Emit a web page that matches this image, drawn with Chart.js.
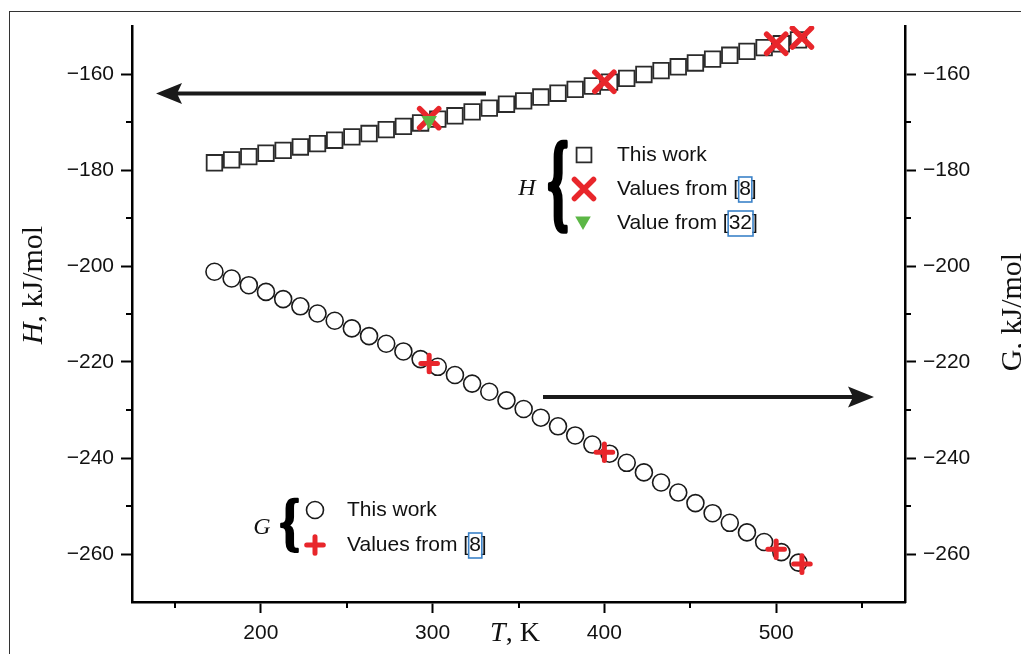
<!DOCTYPE html>
<html>
<head>
<meta charset="utf-8">
<script src="https://cdn.jsdelivr.net/npm/chart.js@4.4.1/dist/chart.umd.min.js"></script>
<style>
  html, body { margin: 0; padding: 0; background: #fff; overflow: hidden; }
  #wrap { position: relative; width: 1021px; height: 654px; }
  #frame { position: absolute; left: 9px; top: 11px; width: 1100px; height: 700px;
           border-left: 1.5px solid #333; border-top: 1.5px solid #333; }
  #chart { position: absolute; left: 0; top: 0; }
</style>
</head>
<body>
<div id="wrap">
  <div id="frame"></div>
  <canvas id="chart" width="1021" height="654"></canvas>
</div>
<script>
// --- data ---
const temps = [173, 183, 193, 203, 213, 223, 233, 243, 253, 263, 273, 283, 293, 303, 313, 323, 333, 343,
               353, 363, 373, 383, 393, 403, 413, 423, 433, 443, 453, 463, 473, 483, 493, 503, 513];
const enthalpyThisWork = [-178.5, -177.9, -177.2, -176.5, -175.9, -175.2, -174.5, -173.8, -173.1, -172.4,
                          -171.6, -170.9, -170.2, -169.4, -168.7, -167.9, -167.1, -166.3, -165.6, -164.8,
                          -164.0, -163.2, -162.5, -161.7, -160.9, -160.1, -159.3, -158.5, -157.7, -156.9,
                          -156.1, -155.3, -154.5, -153.7, -152.9];
const gibbsThisWork = [-201.2, -202.6, -204.0, -205.4, -206.9, -208.4, -209.9, -211.4, -213.0, -214.6,
                       -216.2, -217.8, -219.4, -221.0, -222.7, -224.5, -226.2, -228.0, -229.8, -231.6,
                       -233.4, -235.3, -237.2, -239.1, -241.0, -243.0, -245.1, -247.2, -249.4, -251.5,
                       -253.5, -255.5, -257.5, -259.6, -261.8];
const refTemps8 = [298, 400, 500, 515];
const enthalpyRef8 = [-169.2, -161.6, -153.7, -152.4];
const gibbsRef8 = [-220.3, -238.8, -259.0, -262.1];
const refTemps32 = [298];
const enthalpyRef32 = [-169.7];

const xTickValues = [150, 200, 250, 300, 350, 400, 450, 500, 550];
const xLabelValues = [200, 300, 400, 500];
const yTickValues = [-260, -250, -240, -230, -220, -210, -200, -190, -180, -170, -160];
const yLabelValues = [-260, -240, -220, -200, -180, -160];

// --- styles ---
const RED = '#e8262b';
const GREEN = '#5cb746';
const INK = '#1a1a1a';
const SANS = '"Liberation Sans", Arial, sans-serif';
const SERIF = '"Liberation Serif", "Times New Roman", serif';

const toPoints = (xs, ys) => xs.map((x, i) => ({ x: x, y: ys[i] }));
const minus = v => (v < 0 ? '\u2212' + Math.abs(v) : String(v));

function axisY(position, width) {
    return {
        type: 'linear', position: position, min: -270, max: -150,
        afterBuildTicks: a => { a.ticks = yTickValues.map(v => ({ value: v })); },
        afterFit: s => { s.width = width; },
        ticks: {
            callback: v => (yLabelValues.includes(v) ? minus(v) : ''),
            font: { family: SANS, size: 21 }, color: '#111', padding: 7, autoSkip: false
        },
        grid: {
            drawOnChartArea: false, tickLength: 11, tickWidth: 2,
            tickColor: c => (c.tick && yLabelValues.includes(c.tick.value)) ? '#000' : 'rgba(0,0,0,0)'
        },
        border: { color: '#000', width: 2.5 }
    };
}

function line(ctx, x1, y1, x2, y2) {
    ctx.beginPath(); ctx.moveTo(x1, y1); ctx.lineTo(x2, y2); ctx.stroke();
}

function arrow(ctx, xTail, xTip, y) {
    const dir = xTip > xTail ? 1 : -1;
    ctx.strokeStyle = INK; ctx.fillStyle = INK; ctx.lineWidth = 4;
    line(ctx, xTail, y, xTip - dir * 20, y);
    ctx.beginPath();
    ctx.moveTo(xTip, y);
    ctx.lineTo(xTip - dir * 26, y - 10.5);
    ctx.lineTo(xTip - dir * 21, y);
    ctx.lineTo(xTip - dir * 26, y + 10.5);
    ctx.closePath(); ctx.fill();
}

function brace(ctx, left, top, w, h) {
    ctx.save();
    ctx.font = 'bold 100px ' + SERIF;
    ctx.textAlign = 'left'; ctx.textBaseline = 'alphabetic';
    const m = ctx.measureText('{');
    const gw = m.actualBoundingBoxLeft + m.actualBoundingBoxRight;
    const gh = m.actualBoundingBoxAscent + m.actualBoundingBoxDescent;
    const sx = w / gw, sy = h / gh;
    ctx.translate(left + m.actualBoundingBoxLeft * sx, top + m.actualBoundingBoxAscent * sy);
    ctx.scale(sx, sy);
    ctx.fillStyle = '#000'; ctx.strokeStyle = '#000';
    ctx.lineWidth = 4; ctx.lineJoin = 'round';
    ctx.fillText('{', 0, 0);
    ctx.strokeText('{', 0, 0);
    ctx.restore();
}

function marker(ctx, opts, x, y, stroke, fill, lw) {
    ctx.save();
    ctx.strokeStyle = stroke; ctx.fillStyle = fill; ctx.lineWidth = lw; ctx.lineCap = 'round';
    Chart.helpers.drawPoint(ctx, Object.assign({ rotation: 0, borderWidth: lw }, opts), x, y);
    ctx.restore();
}

// text with a boxed citation number, e.g. "Values from [" + "8" + "]"
function citeText(ctx, x, y, before, num) {
    ctx.font = '21px ' + SANS;
    ctx.fillStyle = '#111';
    ctx.textAlign = 'left'; ctx.textBaseline = 'middle';
    ctx.fillText(before + num + ']', x, y);
    const bx = x + ctx.measureText(before).width;
    const nw = ctx.measureText(num).width;
    ctx.strokeStyle = '#3b82c8'; ctx.lineWidth = 1.6;
    ctx.strokeRect(bx - 0.5, y - 12, nw + 1.5, 25);
}

function mixedTitle(ctx, parts, x, y, rot) {
    ctx.save();
    ctx.translate(x, y);
    ctx.rotate(rot);
    ctx.textBaseline = 'alphabetic'; ctx.textAlign = 'left'; ctx.fillStyle = '#111';
    let total = 0;
    parts.forEach(p => { ctx.font = p.font; total += ctx.measureText(p.text).width; });
    let cx = -total / 2;
    parts.forEach(p => { ctx.font = p.font; ctx.fillText(p.text, cx, 0); cx += ctx.measureText(p.text).width; });
    ctx.restore();
}

const annotations = {
    id: 'annotations',
    beforeDatasetDraw(chart) { chart.ctx.lineCap = 'round'; },
    afterDatasetDraw(chart) { chart.ctx.lineCap = 'butt'; },
    afterDraw(chart) {
        const ctx = chart.ctx;
        const { x, yH } = chart.scales;
        const area = chart.chartArea;
        ctx.save();

        // minor ticks
        ctx.strokeStyle = '#000'; ctx.lineWidth = 2;
        xTickValues.filter(v => !xLabelValues.includes(v)).forEach(v => {
            const px = Math.round(x.getPixelForValue(v));
            line(ctx, px, area.bottom, px, area.bottom + 6);
        });
        yTickValues.filter(v => !yLabelValues.includes(v)).forEach(v => {
            const py = Math.round(yH.getPixelForValue(v));
            line(ctx, area.left - 6, py, area.left, py);
            line(ctx, area.right, py, area.right + 6, py);
        });

        // arrows pointing to the axis each series belongs to
        arrow(ctx, 486, 156, 93.5);
        arrow(ctx, 543, 874, 397);

        // axis titles
        const it = '30px ' + SERIF, itI = 'italic 30px ' + SERIF;
        mixedTitle(ctx, [{ text: 'H', font: itI }, { text: ', kJ/mol', font: it }], 42, 285, -Math.PI / 2);
        mixedTitle(ctx, [{ text: 'G, kJ/mol', font: it }], 1021, 312, -Math.PI / 2);
        mixedTitle(ctx, [{ text: 'T', font: 'italic 28px ' + SERIF }, { text: ', K', font: '28px ' + SERIF }], 515, 641, 0);

        // legend for H
        ctx.font = 'italic 24px ' + SERIF; ctx.fillStyle = '#111';
        ctx.textAlign = 'center'; ctx.textBaseline = 'alphabetic';
        ctx.fillText('H', 527, 195);
        brace(ctx, 549, 143, 18, 89);
        marker(ctx, { pointStyle: 'rect', radius: 10.5 }, 584, 155, '#2b2b2b', '#fff', 1.8);
        marker(ctx, { pointStyle: 'crossRot', radius: 13.5 }, 584, 189, RED, RED, 5.5);
        marker(ctx, { pointStyle: 'triangle', radius: 9, rotation: 180 }, 583, 221, GREEN, GREEN, 0);
        ctx.font = '21px ' + SANS; ctx.textAlign = 'left'; ctx.textBaseline = 'middle';
        ctx.fillText('This work', 617, 155);
        citeText(ctx, 617, 189, 'Values from [', '8');
        citeText(ctx, 617, 223, 'Value from [', '32');

        // legend for G
        ctx.font = 'italic 24px ' + SERIF; ctx.fillStyle = '#111';
        ctx.textAlign = 'center'; ctx.textBaseline = 'alphabetic';
        ctx.fillText('G', 262, 534);
        brace(ctx, 281, 500, 17, 52);
        marker(ctx, { pointStyle: 'circle', radius: 8.5 }, 315, 510, INK, 'rgba(0,0,0,0)', 1.6);
        marker(ctx, { pointStyle: 'cross', radius: 8.3 }, 315, 545, RED, RED, 5);
        ctx.font = '21px ' + SANS; ctx.fillStyle = '#111'; ctx.textAlign = 'left'; ctx.textBaseline = 'middle';
        ctx.fillText('This work', 347, 510);
        citeText(ctx, 347, 545, 'Values from [', '8');

        ctx.restore();
    }
};

new Chart(document.getElementById('chart'), {
    type: 'scatter',
    data: {
        datasets: [
            {
                label: 'H, this work', data: toPoints(temps, enthalpyThisWork), yAxisID: 'yH', order: 5,
                pointStyle: 'rect', pointRadius: 11, pointBorderWidth: 1.8,
                pointBorderColor: '#2b2b2b', pointBackgroundColor: '#fff'
            },
            {
                label: 'H, values from [8]', data: toPoints(refTemps8, enthalpyRef8), yAxisID: 'yH', order: 4,
                pointStyle: 'crossRot', pointRadius: 13.5, pointBorderWidth: 5.5,
                pointBorderColor: RED, pointBackgroundColor: RED
            },
            {
                label: 'H, value from [32]', data: toPoints(refTemps32, enthalpyRef32), yAxisID: 'yH', order: 3,
                pointStyle: 'triangle', pointRotation: 180, pointRadius: 9, pointBorderWidth: 0,
                pointBorderColor: GREEN, pointBackgroundColor: GREEN
            },
            {
                label: 'G, this work', data: toPoints(temps, gibbsThisWork), yAxisID: 'yG', order: 2,
                pointStyle: 'circle', pointRadius: 8.5, pointBorderWidth: 1.6,
                pointBorderColor: INK, pointBackgroundColor: 'rgba(0,0,0,0)'
            },
            {
                label: 'G, values from [8]', data: toPoints(refTemps8, gibbsRef8), yAxisID: 'yG', order: 1,
                pointStyle: 'cross', pointRadius: 8.3, pointBorderWidth: 5,
                pointBorderColor: RED, pointBackgroundColor: RED
            }
        ]
    },
    options: {
        responsive: false,
        devicePixelRatio: 1,
        animation: false,
        events: [],
        layout: { padding: { top: 26, left: 0, right: 0, bottom: 0 } },
        plugins: { legend: { display: false }, tooltip: { enabled: false } },
        scales: {
            x: {
                type: 'linear', position: 'bottom', min: 125, max: 575,
                afterBuildTicks: a => { a.ticks = xTickValues.map(v => ({ value: v })); },
                afterFit: s => { s.height = 52; },
                ticks: {
                    callback: v => (xLabelValues.includes(v) ? String(v) : ''),
                    font: { family: SANS, size: 21 }, color: '#111', padding: 8,
                    maxRotation: 0, autoSkip: false
                },
                grid: {
                    drawOnChartArea: false, tickLength: 11, tickWidth: 2,
                    tickColor: c => (c.tick && xLabelValues.includes(c.tick.value)) ? '#000' : 'rgba(0,0,0,0)'
                },
                border: { color: '#000', width: 2.5 }
            },
            yH: axisY('left', 132),
            yG: axisY('right', 116)
        }
    },
    plugins: [annotations]
});
</script>
</body>
</html>
